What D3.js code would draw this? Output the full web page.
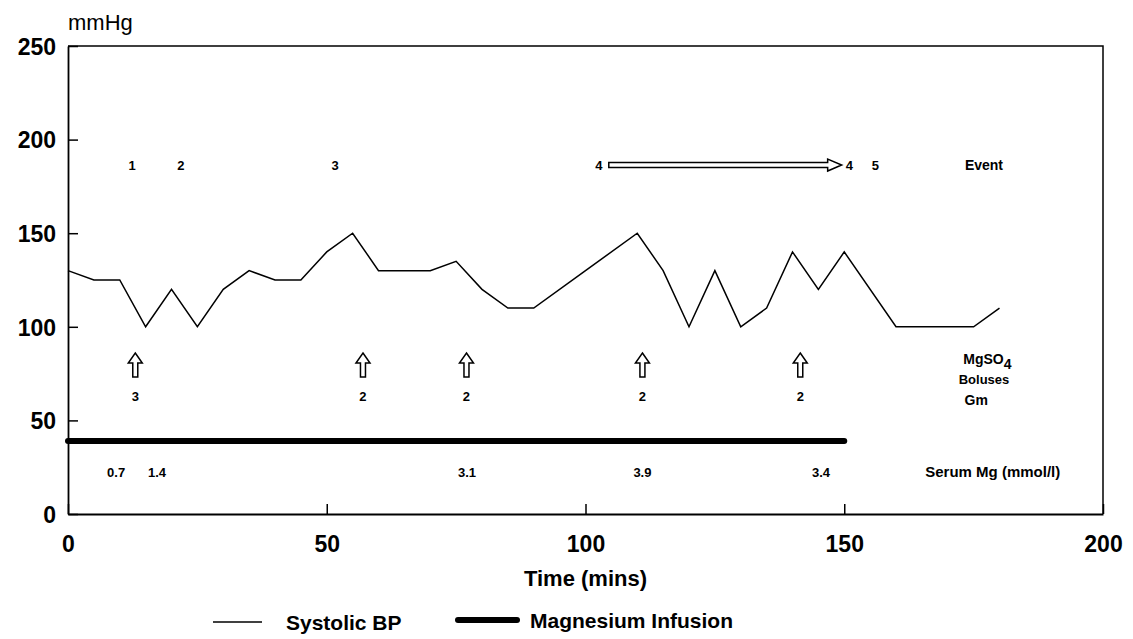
<!DOCTYPE html>
<html><head><meta charset="utf-8">
<script src="https://cdn.jsdelivr.net/npm/d3@7/dist/d3.min.js"></script>
<style>
html,body{margin:0;padding:0;background:#fff;}
svg text{font-family:"Liberation Sans",Arial,Helvetica,sans-serif;fill:#000;}
</style></head>
<body><svg id="chart" width="1133" height="639"></svg>
<script>
// ---- data ----
const bpTime  = [0,5,10,15,20,25,30,35,40,45,50,55,60,70,75,80,85,90,100,110,115,120,125,130,135,140,145,150,160,175,180];
const bpValue = [130,125,125,100,120,100,120,130,125,125,140,150,130,130,135,120,110,110,130,150,130,100,130,100,110,140,120,140,100,100,110];
const infusionTime  = [0,150];
const infusionValue = [39,39];
const eventLabels = ["1","2","3","4","4","5"];
const eventTimes  = [12.4,21.8,51.6,102.6,151,156];
const eventArrow  = [104.5,149.5];   // start/end time of event-4 arrow
const bolusTimes  = [13,57,77,111,141.5];
const bolusGm     = ["3","2","2","2","2"];
const serumTimes  = [9.3,17.2,77.1,111,145.5];
const serumMg     = ["0.7","1.4","3.1","3.9","3.4"];
const xTicks = [0,50,100,150,200];
const yTicks = [0,50,100,150,200,250];

// ---- scales ----
const svg = d3.select("#chart");
const x = d3.scaleLinear().domain([0,200]).range([68,1103]);
const y = d3.scaleLinear().domain([0,250]).range([514,46]);

// frame (top & right)
svg.append("path")
  .attr("d", `M${x(0)},${y(250)}H${x(200)}V${y(0)}`)
  .attr("fill","none").attr("stroke","#000").attr("stroke-width",1.5);

// axes
const gx = svg.append("g").attr("transform",`translate(0,${y(0)})`)
  .call(d3.axisBottom(x).tickValues(xTicks).tickSizeInner(-10).tickSizeOuter(0).tickPadding(22));
const gy = svg.append("g").attr("transform",`translate(${x(0)},0)`)
  .call(d3.axisLeft(y).tickValues(yTicks).tickSizeInner(-10).tickSizeOuter(0).tickPadding(12));
[gx,gy].forEach(g=>{
  g.select(".domain").attr("stroke","#000").attr("stroke-width",1.8);
  g.selectAll(".tick line").attr("stroke","#000").attr("stroke-width",1.5);
  g.selectAll(".tick text").attr("font-size",23).attr("font-weight","bold")
    .attr("font-family","Liberation Sans, Arial, sans-serif").attr("fill","#000");
});
gy.selectAll(".tick text").attr("dy","0.36em");

// axis titles
svg.append("text").attr("x",68).attr("y",30).attr("font-size",22).text("mmHg");
svg.append("text").attr("x",x(100)).attr("y",586).attr("text-anchor","middle")
  .attr("font-size",22).attr("font-weight","bold").text("Time (mins)");

// systolic BP line
const line = d3.line().x((d,i)=>x(bpTime[i])).y(d=>y(d));
svg.append("path").datum(bpValue).attr("d",line)
  .attr("fill","none").attr("stroke","#000").attr("stroke-width",1.5).attr("stroke-linejoin","miter");

// magnesium infusion
const line2 = d3.line().x((d,i)=>x(infusionTime[i])).y(d=>y(d));
svg.append("path").datum(infusionValue).attr("d",line2)
  .attr("fill","none").attr("stroke","#000").attr("stroke-width",6).attr("stroke-linecap","round");

// event labels
const evY = y(186.4);
svg.selectAll(".ev").data(eventLabels).enter().append("text")
  .attr("x",(d,i)=>x(eventTimes[i])).attr("y",evY+5)
  .attr("text-anchor","middle").attr("font-size",13).attr("font-weight","bold").text(d=>d);
// hollow horizontal arrow
{
  const x0=x(eventArrow[0]), x1=x(eventArrow[1]), h=2.5, hw=6, hl=14;
  svg.append("path")
    .attr("d",`M${x0},${evY-h}H${x1-hl}V${evY-hw}L${x1},${evY}L${x1-hl},${evY+hw}V${evY+h}H${x0}Z`)
    .attr("fill","#fff").attr("stroke","#000").attr("stroke-width",1.5);
}
svg.append("text").attr("x",x(177)).attr("y",evY+5).attr("text-anchor","middle")
  .attr("font-size",14).attr("font-weight","bold").text("Event");

// bolus arrows (hollow up arrows)
const arrY = y(79.6);
svg.selectAll(".bol").data(bolusTimes).enter().append("path")
  .attr("d",d=>{const cx=x(d), top=arrY-12, bot=arrY+12, hw=7, sw=2.5, hh=10;
    return `M${cx},${top}L${cx+hw},${top+hh}H${cx+sw}V${bot}H${cx-sw}V${top+hh}H${cx-hw}Z`;})
  .attr("fill","#fff").attr("stroke","#000").attr("stroke-width",1.5);
svg.selectAll(".gm").data(bolusGm).enter().append("text")
  .attr("x",(d,i)=>x(bolusTimes[i])).attr("y",y(63)+5)
  .attr("text-anchor","middle").attr("font-size",13).attr("font-weight","bold").text(d=>d);
{
  const t = svg.append("text").attr("x",x(173)).attr("y",y(83)+5)
    .attr("font-size",14).attr("font-weight","bold");
  t.append("tspan").text("MgSO");
  t.append("tspan").attr("dy",5).attr("font-size",14).text("4");
  svg.append("text").attr("x",x(177).toFixed(1)).attr("y",y(72)+5).attr("text-anchor","middle")
    .attr("font-size",13).attr("font-weight","bold").text("Boluses");
  svg.append("text").attr("x",x(175.5)).attr("y",y(61)+5).attr("text-anchor","middle")
    .attr("font-size",14).attr("font-weight","bold").text("Gm");
}

// serum Mg
svg.selectAll(".mg").data(serumMg).enter().append("text")
  .attr("x",(d,i)=>x(serumTimes[i])).attr("y",y(22.4)+5)
  .attr("text-anchor","middle").attr("font-size",13).attr("font-weight","bold").text(d=>d);
svg.append("text").attr("x",x(178.7)).attr("y",y(22.4)+5).attr("text-anchor","middle")
  .attr("font-size",15).attr("font-weight","bold").text("Serum Mg (mmol/l)");

// legend
const lg = svg.append("g");
lg.append("line").attr("x1",213).attr("x2",262).attr("y1",622).attr("y2",622)
  .attr("stroke","#000").attr("stroke-width",1.5);
lg.append("text").attr("x",286).attr("y",630).attr("font-size",21).attr("font-weight","bold").text("Systolic BP");
lg.append("line").attr("x1",458).attr("x2",517).attr("y1",620).attr("y2",620)
  .attr("stroke","#000").attr("stroke-width",6).attr("stroke-linecap","round");
lg.append("text").attr("x",530).attr("y",628).attr("font-size",21).attr("font-weight","bold").text("Magnesium Infusion");
</script></body></html>
